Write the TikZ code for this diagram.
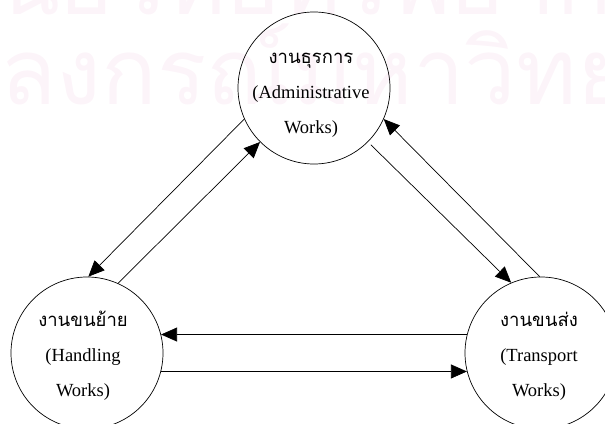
\documentclass[tikz,border=0pt]{standalone}
\usepackage{fontspec}
\setmainfont{Liberation Serif}
\newfontfamily\thaifont[Script=Thai]{Loma}
\usetikzlibrary{arrows.meta}
\definecolor{wmpink}{RGB}{252,244,249}
\begin{document}
\begin{tikzpicture}[x=1pt,y=-1pt,
  work/.style={circle,draw,line width=0.7pt,minimum size=152pt,inner sep=0pt},
  worktext/.style={align=center,inner sep=0pt,font=\fontsize{18.5}{35}\selectfont},
  flow/.style={line width=0.7pt,-{Triangle[length=16pt,width=14pt]}},
  mark text/.style={text=wmpink,inner sep=0pt,font=\thaifont\fontsize{92}{92}\selectfont}
]
\useasboundingbox (0,0) rectangle (605,423);
% faint background stamp
\begin{scope}
  \clip (0,0) rectangle (605,423);
  \node[mark text,anchor=base] (stampa) at (300,14) {ศูนย์วิทยทรัพยากร};
  \node[mark text,anchor=base west] (stampb) at (0,104) {\llap{จุฬา}ลงกรณ์มหาวิทยาลัย};
\end{scope}
% the three kinds of work
\node[work] (adm) at (314,88) {};
\node[work] (hdl) at (87,353) {};
\node[work] (trn) at (541,353) {};
\node[worktext] (admtext) at (311,95) {{\thaifont งานธุรการ}\\(Administrative\\Works)};
\node[worktext] (hdltext) at (83,356) {{\thaifont งานขนย้าย}\\(Handling\\Works)};
\node[worktext] (trntext) at (539,356) {{\thaifont งานขนส่ง}\\(Transport\\Works)};
% flows between them
\draw[flow] (adm.204) -- (hdl.89);
\draw[flow] (hdl.66) -- (adm.225);
\draw[flow,shorten <=4pt] (adm.315) -- (trn.113);
\draw[flow] (trn.91) -- (adm.336);
\draw[flow] (trn.166) -- (hdl.14);
\draw[flow] (hdl.-14) -- (trn.194);
\end{tikzpicture}
\end{document}
